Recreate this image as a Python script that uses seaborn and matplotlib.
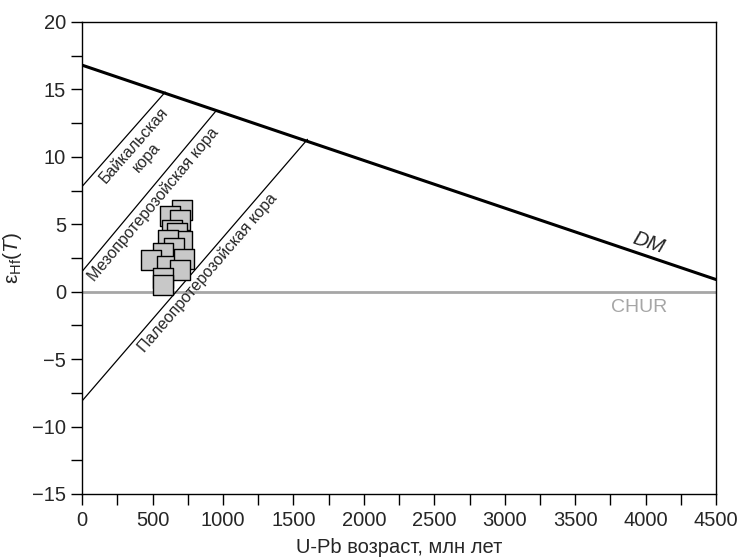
import matplotlib
matplotlib.use("Agg")
import matplotlib.pyplot as plt
import seaborn as sns
import numpy as np
import pandas as pd

# Data
age = [712, 625, 695, 636, 676, 707, 613, 649, 577, 490, 601, 726, 695, 577, 577]
eps = [6.03, 5.58, 5.34, 4.6, 4.35, 3.73, 3.85, 3.24, 2.87, 2.37, 1.88, 2.42, 1.63, 1.04, 0.52]

dm_x = [0, 4500]
dm_y = [16.8, 0.9]
chur_x = [0, 4500]
chur_y = [0, 0]

crust_names = ["Байкальская\nкора", "Мезопротерозойская кора", "Палеопротерозойская кора"]
crust_x0 = [0, 0, 0]
crust_y0 = [7.8, 1.5, -8.1]
crust_x1 = [590, 950, 1600]
crust_y1 = [14.8, 13.4, 11.3]
label_x = [305, 440, 830]

sns.set_style("ticks")
plt.rcParams['font.family'] = ['Liberation Sans', 'DejaVu Sans']
plt.rcParams['mathtext.fontset'] = 'custom'
plt.rcParams['mathtext.rm'] = 'Liberation Sans'
plt.rcParams['mathtext.it'] = 'Liberation Sans:italic'

fig = plt.figure(figsize=(7.46, 5.58), dpi=100)
ax = fig.add_axes([0.110, 0.1147, 0.850, 0.8459])
ax.set_xlim(0, 4500)
ax.set_ylim(-15, 20)

# CHUR
sns.lineplot(x=chur_x, y=chur_y, ax=ax, color='#a6a6a6', lw=2.0)
# DM
sns.lineplot(x=dm_x, y=dm_y, ax=ax, color='black', lw=2.2)
# crust lines
for i in range(3):
    sns.lineplot(x=[crust_x0[i], crust_x1[i]], y=[crust_y0[i], crust_y1[i]], ax=ax,
                 color='black', lw=0.9)

# data
sns.scatterplot(x=age, y=eps, ax=ax, marker='s', s=210, color='#c8c8c8',
                edgecolor='black', linewidth=1.0, zorder=5, legend=False)

# crust labels (offset perpendicular, below the line)
gap = 3.0  # points
for i in range(3):
    slope = (crust_y1[i] - crust_y0[i]) / (crust_x1[i] - crust_x0[i])
    lx = label_x[i]
    ly = crust_y0[i] + slope * lx
    p1 = ax.transData.transform((crust_x0[i], crust_y0[i]))
    p2 = ax.transData.transform((crust_x1[i], crust_y1[i]))
    th = np.arctan2(p2[1] - p1[1], p2[0] - p1[0])
    ax.annotate(crust_names[i], xy=(lx, ly), xycoords='data',
                xytext=(gap * np.sin(th), -gap * np.cos(th)), textcoords='offset points',
                rotation=np.degrees(th), rotation_mode='anchor', ha='center', va='top',
                fontsize=11.5, multialignment='center')

# DM label
p1 = ax.transData.transform((dm_x[0], dm_y[0]))
p2 = ax.transData.transform((dm_x[1], dm_y[1]))
th_dm = np.degrees(np.arctan2(p2[1] - p1[1], p2[0] - p1[0]))
dm_slope = (dm_y[1] - dm_y[0]) / (dm_x[1] - dm_x[0])
ax.annotate("DM", xy=(4000, dm_y[0] + dm_slope * 4000), xytext=(0, 3), textcoords='offset points',
            rotation=th_dm, rotation_mode='anchor', ha='center', va='bottom',
            fontsize=15, style='italic')
ax.text(3950, -1.2, "CHUR", color='#a6a6a6', fontsize=14, ha='center', va='center')

ax.set_xticks(np.arange(0, 4501, 500))
ax.set_xticks(np.arange(0, 4501, 250), minor=True)
ax.set_yticks(np.arange(-15, 21, 5))
ax.set_yticks(np.arange(-15, 21, 2.5), minor=True)
ax.set_yticklabels(['\u221215', '\u221210', '\u22125', '0', '5', '10', '15', '20'])
ax.tick_params(which='both', direction='out', length=8, width=1, labelsize=14.5, color='black')
ax.tick_params(axis='x', pad=4)
for s in ax.spines.values():
    s.set_linewidth(1.0)
    s.set_color('black')

ax.set_xlabel("U-Pb возраст, млн лет", fontsize=14.5, labelpad=6)
ax.set_ylabel("\u03b5$_{\\mathrm{Hf}}$($\\mathit{T}$)", fontsize=15, labelpad=6)

fig.savefig("out.png", dpi=100)
